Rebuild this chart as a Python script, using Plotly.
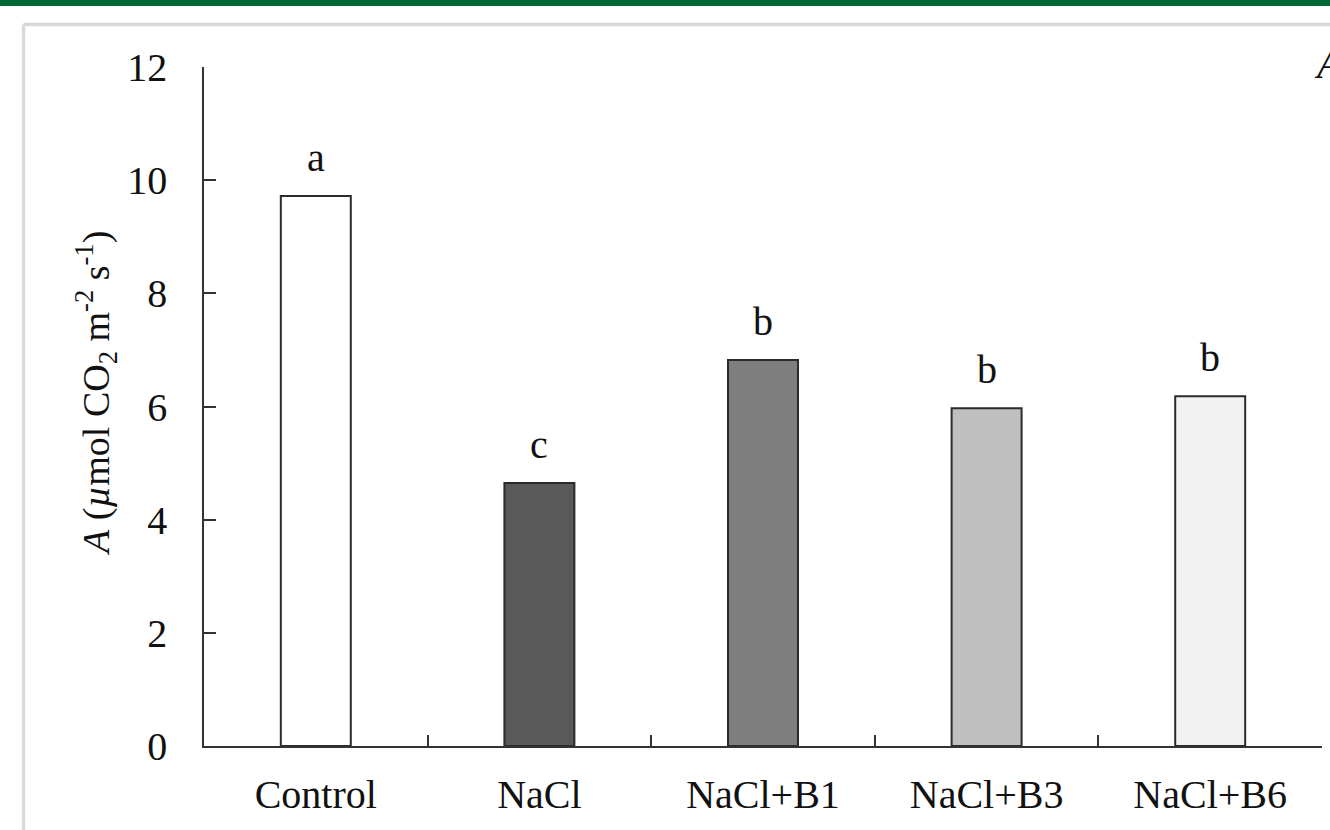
import plotly.graph_objects as go

categories = ["Control", "NaCl", "NaCl+B1", "NaCl+B3", "NaCl+B6"]
values = [9.72, 4.65, 6.82, 5.97, 6.18]
letters = ["a", "c", "b", "b", "b"]
bar_colors = ["#ffffff", "#595959", "#7f7f7f", "#bfbfbf", "#f2f2f2"]
y_ticks = [0, 2, 4, 6, 8, 10, 12]

W, H = 1330, 830
L, R, T, B = 204, 1322, 67, 746
FONT = "Liberation Serif"


def px(xp):
    return (xp - L) / (R - L)


def py(yp):
    return (B - yp) / (B - T)


fig = go.Figure()
fig.add_trace(go.Bar(
    x=categories, y=values, width=0.313,
    marker=dict(color=bar_colors, line=dict(color="#2b2b2b", width=2)),
    showlegend=False, hoverinfo="skip",
))

for c, v, t in zip(categories, values, letters):
    fig.add_annotation(x=c, y=v, xref="x", yref="y", text=t, showarrow=False,
                       yanchor="bottom", yshift=14,
                       font=dict(family=FONT, size=40, color="#111111"))

# y-axis title
fig.add_annotation(
    x=px(96), y=py(394), xref="paper", yref="paper", showarrow=False,
    text="<i>A</i> (<i>\u00b5</i>mol CO<sub>2</sub> m<sup>-2</sup> s<sup>-1</sup>)",
    textangle=-90, xanchor="center", yanchor="middle",
    font=dict(family=FONT, size=38, color="#111111"))

# panel letter
fig.add_annotation(x=px(1312), y=py(64), xref="paper", yref="paper",
                   showarrow=False, text="<i>A</i>", xanchor="left",
                   yanchor="middle",
                   font=dict(family=FONT, size=42, color="#111111"))

# green header band
fig.add_shape(type="rect", xref="paper", yref="paper",
              x0=px(-10), x1=px(W + 10), y0=py(6), y1=py(-10),
              fillcolor="#006633", line=dict(width=0), layer="above")
# gray frame
fig.add_shape(type="line", xref="paper", yref="paper",
              x0=px(23.5), x1=px(W + 10), y0=py(24.5), y1=py(24.5),
              line=dict(color="#d9d9d9", width=3.5))
fig.add_shape(type="line", xref="paper", yref="paper",
              x0=px(23.5), x1=px(23.5), y0=py(24.5), y1=py(H + 10),
              line=dict(color="#d9d9d9", width=3.5))

fig.update_layout(
    width=W, height=H,
    margin=dict(l=L, r=W - R, t=T, b=H - B, pad=0),
    paper_bgcolor="white", plot_bgcolor="white",
    bargap=0.687,
    xaxis=dict(
        type="category", range=[-0.5, 4.5],
        tickson="boundaries", ticks="inside", ticklen=11, tickwidth=1.5,
        tickcolor="#333333", showline=True, linecolor="#333333", linewidth=1.5,
        showgrid=False, zeroline=False, ticklabelstandoff=12,
        tickfont=dict(family=FONT, size=40, color="#111111"),
    ),
    yaxis=dict(
        range=[0, 12], tickmode="array", tickvals=y_ticks,
        ticks="inside", ticklen=12, tickwidth=1.5, tickcolor="#333333",
        showline=True, linecolor="#333333", linewidth=1.5,
        showgrid=False, zeroline=False, ticklabelstandoff=27,
        tickfont=dict(family=FONT, size=40, color="#111111"),
    ),
)

fig.write_html(
    "out.html",
    config={"displayModeBar": False},
    post_script="document.body.style.margin='0px';document.body.style.overflow='hidden';",
)
